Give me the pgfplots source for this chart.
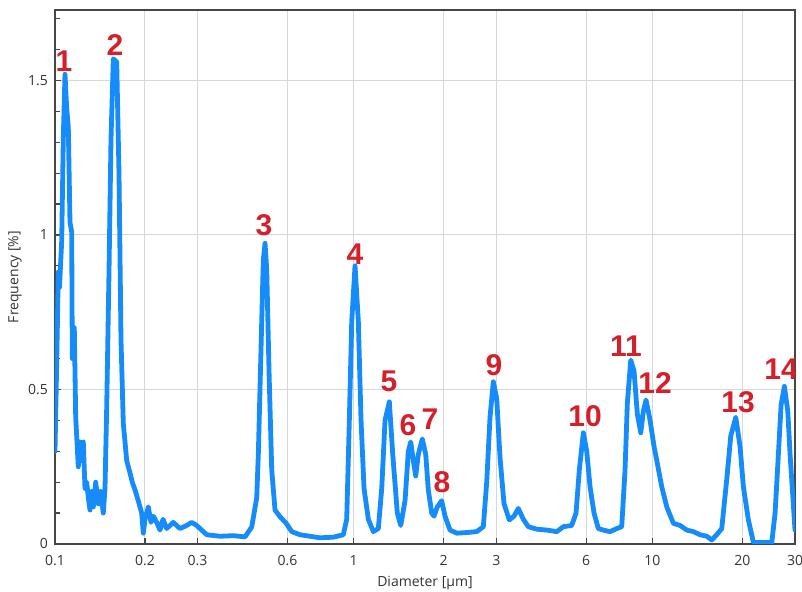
\documentclass[border=0pt]{standalone}
\usepackage{fontspec}
\setmainfont{Open Sans}
\newfontfamily\labfont{Liberation Sans}
\usepackage{pgfplots}
\pgfplotsset{compat=1.18}
\definecolor{curve}{RGB}{22,140,250}
\definecolor{peakred}{RGB}{212,32,42}
\definecolor{axgray}{RGB}{70,70,70}
\definecolor{gridgray}{RGB}{215,215,215}
\begin{document}
\begin{tikzpicture}
\begin{axis}[
  name=ax,
  xmode=log,
  scale only axis,
  width=370pt, height=267pt,
  xmin=0.1, xmax=30, ymin=0, ymax=1.728,
  xtick={0.1,0.2,0.3,0.6,1,2,3,6,10,20,30},
  xticklabels={0.1,0.2,0.3,0.6,1,2,3,6,10,20,30},
  minor xtick={},
  ytick={0,0.5,1,1.5},
  yticklabels={0,0.5,1,1.5},
  minor ytick={0.1,0.2,0.3,0.4,0.6,0.7,0.8,0.9,1.1,1.2,1.3,1.4,1.6,1.7},
  grid=major,
  major grid style={gridgray, line width=0.5pt},
  axis line style={axgray, line width=0.8pt},
  tick style={axgray, line width=0.6pt},
  major tick length=3pt, minor tick length=2.5pt,
  tick align=inside,
  xtick pos=bottom, ytick pos=left,
  ticklabel style={font=\fontsize{7pt}{8pt}\selectfont, text=black!80},
  xticklabel style={yshift=-2pt},
  /pgf/number format/assume math mode=true,
  xlabel={Diameter [µm]},
  ylabel={Frequency [\%]},
  label style={font=\fontsize{7pt}{8pt}\selectfont, text=black!80},
  xlabel style={at={(axis description cs:0.5,-0.073)}, anchor=center},
  ylabel style={at={(axis description cs:-0.054,0.5)}, anchor=center},
  clip=true,
]
\addplot[curve, line width=2.4pt, line join=round, line cap=round] coordinates {
(0.10000,0.30) (0.10116,0.55) (0.10258,0.88) (0.10353,0.83) (0.10530,0.98)
(0.10661,1.31) (0.10801,1.52) (0.10944,1.41) (0.11080,1.35) (0.11226,1.04)
(0.11374,1.01) (0.11427,0.60) (0.11604,0.70) (0.11730,0.41) (0.11967,0.25)
(0.12125,0.33) (0.12285,0.27) (0.12437,0.33) (0.12601,0.18) (0.12767,0.20)
(0.12926,0.15) (0.13096,0.11) (0.13269,0.17) (0.13434,0.12) (0.13685,0.20)
(0.13962,0.13) (0.14201,0.17) (0.14511,0.10) (0.14702,0.18) (0.14896,0.44)
(0.15163,0.88) (0.15399,1.31) (0.15675,1.57) (0.16090,1.56) (0.16378,1.20)
(0.16633,0.66) (0.16931,0.39) (0.17380,0.27) (0.17827,0.23) (0.18146,0.20)
(0.18528,0.175) (0.19005,0.14) (0.19510,0.10) (0.19752,0.035) (0.20012,0.08)
(0.20527,0.12) (0.20959,0.07) (0.21334,0.09) (0.21900,0.07) (0.22464,0.045)
(0.22989,0.08) (0.23654,0.05) (0.24889,0.07) (0.26207,0.05) (0.27596,0.06)
(0.28680,0.07) (0.29806,0.06) (0.30574,0.05) (0.32194,0.03) (0.35671,0.025)
(0.39530,0.027) (0.43264,0.023) (0.45557,0.055) (0.47346,0.15) (0.47934,0.29)
(0.49204,0.72) (0.49814,0.92) (0.50472,0.973) (0.51137,0.89) (0.52052,0.56)
(0.53147,0.24) (0.54514,0.11) (0.56656,0.088) (0.59337,0.068) (0.62006,0.04)
(0.66097,0.03) (0.71393,0.025) (0.77118,0.02) (0.85425,0.022) (0.92277,0.03)
(0.94726,0.08) (0.96665,0.40) (0.98469,0.72) (1.01007,0.90) (1.03610,0.72)
(1.05789,0.40) (1.08262,0.18) (1.11913,0.08) (1.16310,0.04) (1.20877,0.05)
(1.24088,0.18) (1.27285,0.40) (1.31572,0.46) (1.35067,0.29) (1.39939,0.10)
(1.43653,0.06) (1.48492,0.14) (1.52317,0.30) (1.55162,0.33) (1.58304,0.27)
(1.61262,0.22) (1.64524,0.29) (1.69672,0.34) (1.74175,0.29) (1.77701,0.175)
(1.82418,0.10) (1.85682,0.09) (1.90467,0.12) (1.96974,0.14) (2.02132,0.09)
(2.10081,0.045) (2.21226,0.035) (2.38951,0.037) (2.58028,0.04) (2.71502,0.056)
(2.78707,0.20) (2.85887,0.41) (2.93247,0.525) (3.01037,0.47) (3.08792,0.28)
(3.18459,0.13) (3.31742,0.078) (3.44001,0.09) (3.55590,0.115) (3.69565,0.08)
(3.84087,0.056) (4.09791,0.048) (4.42667,0.045) (4.78124,0.04) (5.03094,0.056)
(5.36746,0.06) (5.54836,0.10) (5.69120,0.24) (5.86945,0.36) (6.02535,0.30)
(6.18052,0.185) (6.37418,0.10) (6.58891,0.05) (6.84781,0.045) (7.21064,0.04)
(7.59293,0.05) (7.89113,0.056) (8.09447,0.24) (8.23923,0.455) (8.45797,0.595)
(8.67589,0.56) (8.89940,0.42) (9.13563,0.36) (9.32068,0.43) (9.51658,0.466)
(9.81668,0.40) (10.1242,0.315) (10.3845,0.26) (10.7427,0.185) (11.1645,0.12)
(11.7476,0.067) (12.3700,0.06) (13.0255,0.045) (13.7057,0.04) (14.4318,0.03)
(15.1965,0.025) (15.7929,0.013) (16.4141,0.03) (17.0597,0.05) (17.7307,0.21)
(18.2869,0.35) (19.0056,0.41) (19.6457,0.315) (20.1519,0.185) (20.9441,0.078)
(21.7670,0.005) (25.0838,0.005) (25.7297,0.10) (26.3922,0.29) (26.9467,0.45)
(27.6407,0.51) (28.3747,0.43) (28.8826,0.29) (30.0,0.045)
};
\begin{scope}[every node/.style={text=peakred, font=\labfont\bfseries\fontsize{15pt}{15pt}\selectfont, inner sep=0pt, anchor=center}]
\node at (axis cs:0.1072,1.563) {1};
\node at (axis cs:0.1588,1.615) {2};
\node at (axis cs:0.5009,1.032) {3};
\node at (axis cs:1.0101,0.938) {4};
\node at (axis cs:1.3127,0.5275) {5};
\node at (axis cs:1.5197,0.385) {6};
\node at (axis cs:1.8004,0.4045) {7};
\node at (axis cs:1.9750,0.2006) {8};
\node at (axis cs:2.9483,0.5793) {9};
\node at (axis cs:5.9468,0.4142) {10};
\node at (axis cs:8.1573,0.6408) {11};
\node at (axis cs:10.2027,0.5210) {12};
\node at (axis cs:19.343,0.4595) {13};
\node at (axis cs:26.945,0.5663) {14};
\end{scope}
\end{axis}
\pgfresetboundingbox
\path ([xshift=-27.5pt,yshift=-24pt]ax.south west) rectangle ([xshift=3.5pt,yshift=5pt]ax.north east);
\end{tikzpicture}
\end{document}
